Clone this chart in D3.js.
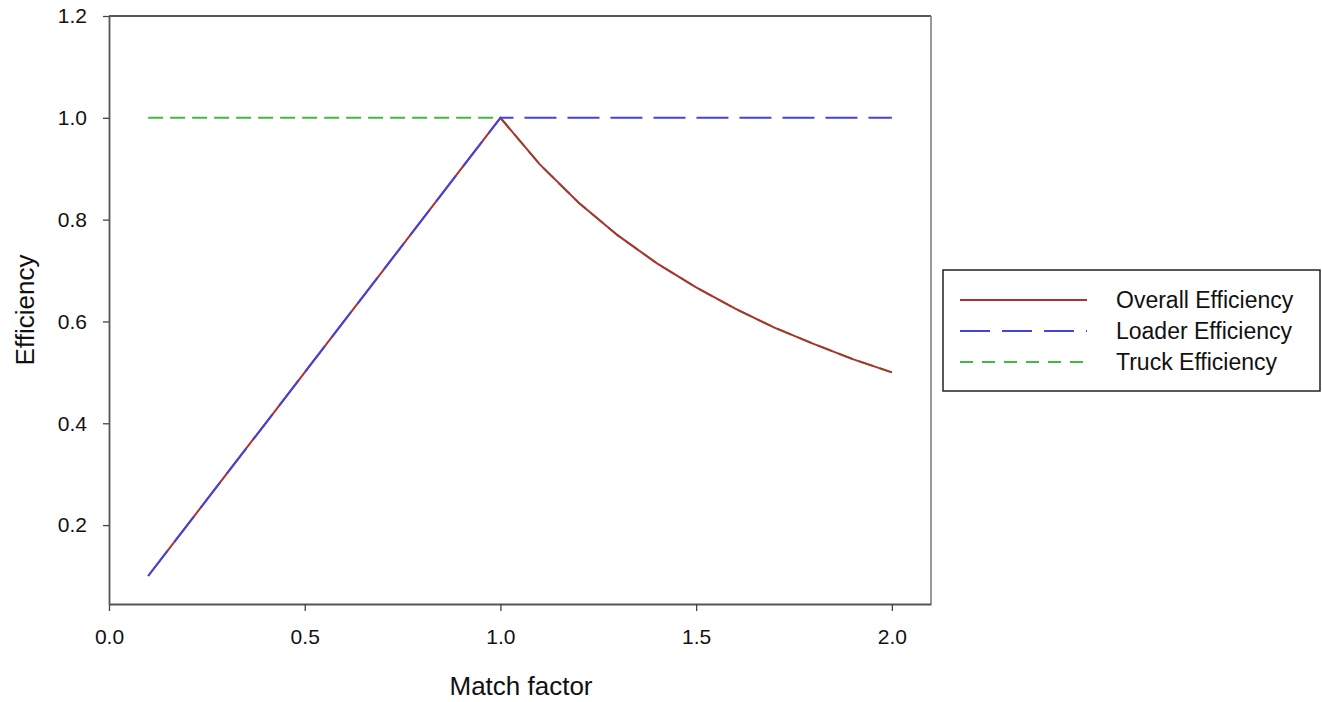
<!DOCTYPE html>
<html>
<head>
<meta charset="utf-8">
<script src="https://cdn.jsdelivr.net/npm/d3@7"></script>
<style>
body { margin: 0; background: #fff; }
text { font-family: "Liberation Sans", Arial, sans-serif; }
</style>
</head>
<body>
<svg width="1322" height="702"></svg>
<script>
// values
var matchFactor = [0.1, 0.2, 0.3, 0.4, 0.5, 0.6, 0.7, 0.8, 0.9, 1.0, 1.1, 1.2, 1.3, 1.4, 1.5, 1.6, 1.7, 1.8, 1.9, 2.0];
var overallEff = [0.1, 0.2, 0.3, 0.4, 0.5, 0.6, 0.7, 0.8, 0.9, 1.0, 0.909, 0.833, 0.769, 0.714, 0.667, 0.625, 0.588, 0.556, 0.526, 0.5];
var loaderEff  = [0.1, 0.2, 0.3, 0.4, 0.5, 0.6, 0.7, 0.8, 0.9, 1.0, 1.0, 1.0, 1.0, 1.0, 1.0, 1.0, 1.0, 1.0, 1.0, 1.0];
var truckEff   = [1.0, 1.0, 1.0, 1.0, 1.0, 1.0, 1.0, 1.0, 1.0, 1.0, 0.909, 0.833, 0.769, 0.714, 0.667, 0.625, 0.588, 0.556, 0.526, 0.5];
var xTicks = [0.0, 0.5, 1.0, 1.5, 2.0];
var yTicks = [0.2, 0.4, 0.6, 0.8, 1.0, 1.2];

var series = [
    {name: "Truck Efficiency", values: truckEff, color: "#44b844", dash: "15,7", legDash: "13,9"},
    {name: "Overall Efficiency", values: overallEff, color: "#b03030", dash: null, legDash: null},
    {name: "Loader Efficiency", values: loaderEff, color: "#4444dd", dash: "32,11", legDash: "30,12"}
];
var legendOrder = ["Overall Efficiency", "Loader Efficiency", "Truck Efficiency"];

var svg = d3.select("svg");
var mLeft = 109, mRight = 931, mTop = 16, mBottom = 604;

var x = d3.scaleLinear().domain([0, 2.1]).range([mLeft, mRight]);
var y = d3.scaleLinear().domain([0.045, 1.2]).range([mBottom, mTop]);

// frame (top and right)
svg.append("line").attr("x1", mLeft).attr("x2", mRight).attr("y1", mTop).attr("y2", mTop)
    .attr("stroke", "#222").attr("stroke-width", 1.5);
svg.append("line").attr("x1", mRight).attr("x2", mRight).attr("y1", mTop).attr("y2", mBottom)
    .attr("stroke", "#777").attr("stroke-width", 1.5);

var xAxis = svg.append("g")
    .attr("transform", "translate(0," + mBottom + ")")
    .call(d3.axisBottom(x).tickValues(xTicks).tickFormat(d3.format(".1f")).tickSizeInner(7).tickSizeOuter(0).tickPadding(18));
var yAxis = svg.append("g")
    .attr("transform", "translate(" + mLeft + ",0)")
    .call(d3.axisLeft(y).tickValues(yTicks).tickFormat(d3.format(".1f")).tickSizeInner(6).tickSizeOuter(0).tickPadding(16));

[xAxis, yAxis].forEach(function(a) {
    a.select(".domain").attr("stroke", "#555").attr("stroke-width", 1.8);
    a.selectAll(".tick line").attr("stroke", "#444").attr("stroke-width", 1.3);
    a.selectAll(".tick text").attr("fill", "#111").style("font-size", "21px")
        .style("font-family", "'Liberation Sans', Arial, sans-serif");
});

var line = d3.line()
    .x(function(d, i) { return x(matchFactor[i]); })
    .y(function(d) { return y(d); });

svg.selectAll(".series")
    .data(series)
    .enter()
    .append("path")
    .attr("class", "series")
    .attr("d", function(d) { return line(d.values); })
    .attr("fill", "none")
    .attr("stroke", function(d) { return d.color; })
    .attr("stroke-width", 2)
    .attr("stroke-dasharray", function(d) { return d.dash; });

// axis titles
svg.append("text")
    .attr("x", 521).attr("y", 695)
    .attr("text-anchor", "middle")
    .style("font-size", "26px").attr("fill", "#111")
    .text("Match factor");
svg.append("text")
    .attr("transform", "translate(34," + (mTop + mBottom) / 2 + ") rotate(-90)")
    .attr("text-anchor", "middle")
    .style("font-size", "26px").attr("fill", "#111")
    .text("Efficiency");

// legend
var legend = svg.append("g").attr("transform", "translate(943,270)");
legend.append("rect")
    .attr("width", 377).attr("height", 121)
    .attr("fill", "#fff").attr("stroke", "#222").attr("stroke-width", 1.5);

var items = legend.selectAll(".item")
    .data(legendOrder.map(function(n) { return series.find(function(s) { return s.name == n; }); }))
    .enter()
    .append("g")
    .attr("class", "item")
    .attr("transform", function(d, i) { return "translate(0," + (30 + i * 31) + ")"; });

items.append("line")
    .attr("x1", 17).attr("x2", 144)
    .attr("stroke", function(d) { return d.color; })
    .attr("stroke-width", 1.8)
    .attr("stroke-dasharray", function(d) { return d.legDash; });

items.append("text")
    .attr("x", 173).attr("dy", "0.35em")
    .style("font-size", "23px").attr("fill", "#111")
    .text(function(d) { return d.name; });
</script>
</body>
</html>
